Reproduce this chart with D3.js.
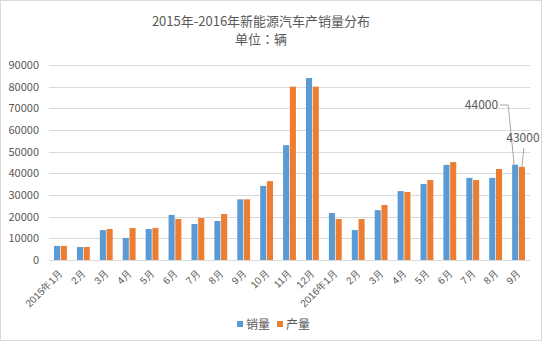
<!DOCTYPE html>
<html>
<head>
<meta charset="utf-8">
<script src="https://cdn.jsdelivr.net/npm/d3@7"></script>
<style>
  html, body { margin: 0; padding: 0; background: #fff; }
  svg { display: block; font-family: "Noto Sans CJK SC", "Noto Sans", sans-serif; }
</style>
</head>
<body>
<svg id="chart" width="543" height="342"></svg>
<script>
// Monthly new-energy vehicle sales and production, Jan 2015 – Sep 2016 (units)
const months = ["2015年1月","2月","3月","4月","5月","6月","7月","8月","9月","10月","11月","12月",
                "2016年1月","2月","3月","4月","5月","6月","7月","8月","9月"];
const sales = [6500, 6000, 13800, 10200, 14300, 20800, 16600, 18000, 28000, 34200, 53000, 84000,
               21700, 13800, 23000, 31800, 35100, 43900, 37900, 37900, 44000];
const production = [6500, 6000, 14300, 14800, 14800, 18900, 19400, 21200, 28000, 36400, 80000, 80000,
                    18900, 18900, 25400, 31400, 36900, 45200, 36900, 42000, 43000];
const yTicks = [0, 10000, 20000, 30000, 40000, 50000, 60000, 70000, 80000, 90000];
const seriesNames = ["销量", "产量"];
const colors = ["#5B9BD5", "#ED7D31"];

const svg = d3.select("#chart");
const W = 543, H = 342;
const plot = { left: 49, right: 530, top: 65, bottom: 260 };
const textColor = "#595959";

// outer frame
svg.append("rect").attr("x", 0.5).attr("y", 0.5).attr("width", W - 2).attr("height", H - 2)
  .attr("fill", "#fff").attr("stroke", "#d9d9d9");

// title (two lines); the colon uses the TC face so it sits centred
svg.append("text").attr("text-anchor", "middle").attr("fill", textColor).attr("font-size", 13)
  .attr("x", 261).attr("y", 26).text("2015年-2016年新能源汽车产销量分布");
const sub = svg.append("text").attr("text-anchor", "middle").attr("fill", textColor).attr("font-size", 13)
  .attr("x", 261).attr("y", 44);
sub.append("tspan").text("单位");
sub.append("tspan").attr("font-family", "'Noto Sans CJK TC', sans-serif").text("：");
sub.append("tspan").text("辆");

const x0 = d3.scaleBand().domain(d3.range(months.length))
  .range([plot.left, plot.right]).paddingInner(0.44).paddingOuter(0.22);
const x1 = d3.scaleBand().domain([0, 1]).range([0, x0.bandwidth()]).paddingInner(0.1);
const y = d3.scaleLinear().domain([0, 90000]).range([plot.bottom, plot.top]);

// gridlines
svg.append("g").selectAll("line").data(yTicks.slice(1)).join("line")
  .attr("x1", plot.left).attr("x2", plot.right)
  .attr("y1", d => Math.round(y(d)) + 0.5).attr("y2", d => Math.round(y(d)) + 0.5)
  .attr("stroke", "#d9d9d9").attr("stroke-width", 1);

// y axis labels
const yAxis = d3.axisLeft(y).tickValues(yTicks).tickSize(0).tickPadding(10).tickFormat(d3.format("d"));
const gy = svg.append("g").attr("transform", `translate(${plot.left},0)`).call(yAxis);
gy.select(".domain").remove();
gy.selectAll("text").attr("fill", textColor).attr("font-size", 11)
  .attr("font-family", "'Noto Sans CJK SC', sans-serif");

// bars
const groups = svg.append("g").selectAll("g").data(months.map((m, i) => i)).join("g")
  .attr("transform", i => `translate(${x0(i)},0)`);
groups.selectAll("rect").data(i => [sales[i], production[i]].map((v, s) => ({ v, s }))).join("rect")
  .attr("x", d => x1(d.s)).attr("width", x1.bandwidth())
  .attr("y", d => y(d.v)).attr("height", d => y(0) - y(d.v))
  .attr("fill", d => colors[d.s]);

// x axis line and labels
svg.append("line").attr("x1", plot.left).attr("x2", plot.right)
  .attr("y1", plot.bottom + 0.5).attr("y2", plot.bottom + 0.5).attr("stroke", "#d9d9d9");
const xAxis = d3.axisBottom(x0).tickSize(0).tickFormat(i => months[i]);
const gx = svg.append("g").attr("transform", `translate(0,${plot.bottom})`).call(xAxis);
gx.select(".domain").remove();
gx.selectAll("text").attr("fill", textColor).attr("font-size", 10)
  .attr("text-anchor", "end").attr("dy", 0).attr("y", 0)
  .attr("transform", "translate(3,14) rotate(-45)");

// value callouts for the last month
const last = months.length - 1;
const bxS = x0(last) + x1(0) + x1.bandwidth() / 2;
const bxP = x0(last) + x1(1) + x1.bandwidth() / 2;
const callouts = svg.append("g").attr("fill", "none").attr("stroke", "#a6a6a6").attr("stroke-width", 1);
callouts.append("polyline")
  .attr("points", `${bxS - 15},105 ${bxS - 7},105 ${bxS - 1},${y(sales[last])}`);
callouts.append("polyline")
  .attr("points", `${bxP + 2},148 ${bxP},${y(production[last])}`);
svg.append("text").attr("x", bxS - 17).attr("y", 109).attr("text-anchor", "end")
  .attr("fill", textColor).attr("font-size", 12).text(d3.format("d")(sales[last]));
svg.append("text").attr("x", bxP + 1).attr("y", 142).attr("text-anchor", "middle")
  .attr("fill", textColor).attr("font-size", 12).text(d3.format("d")(production[last]));

// legend
const legend = svg.append("g").attr("transform", "translate(237,324)");
const items = legend.selectAll("g").data(seriesNames).join("g")
  .attr("transform", (d, i) => `translate(${i * 40},0)`);
items.append("rect").attr("x", 0).attr("y", -3).attr("width", 6).attr("height", 6)
  .attr("fill", (d, i) => colors[i]);
items.append("text").attr("x", 9).attr("y", 4.5).attr("fill", textColor).attr("font-size", 12).text(d => d);
</script>
</body>
</html>
